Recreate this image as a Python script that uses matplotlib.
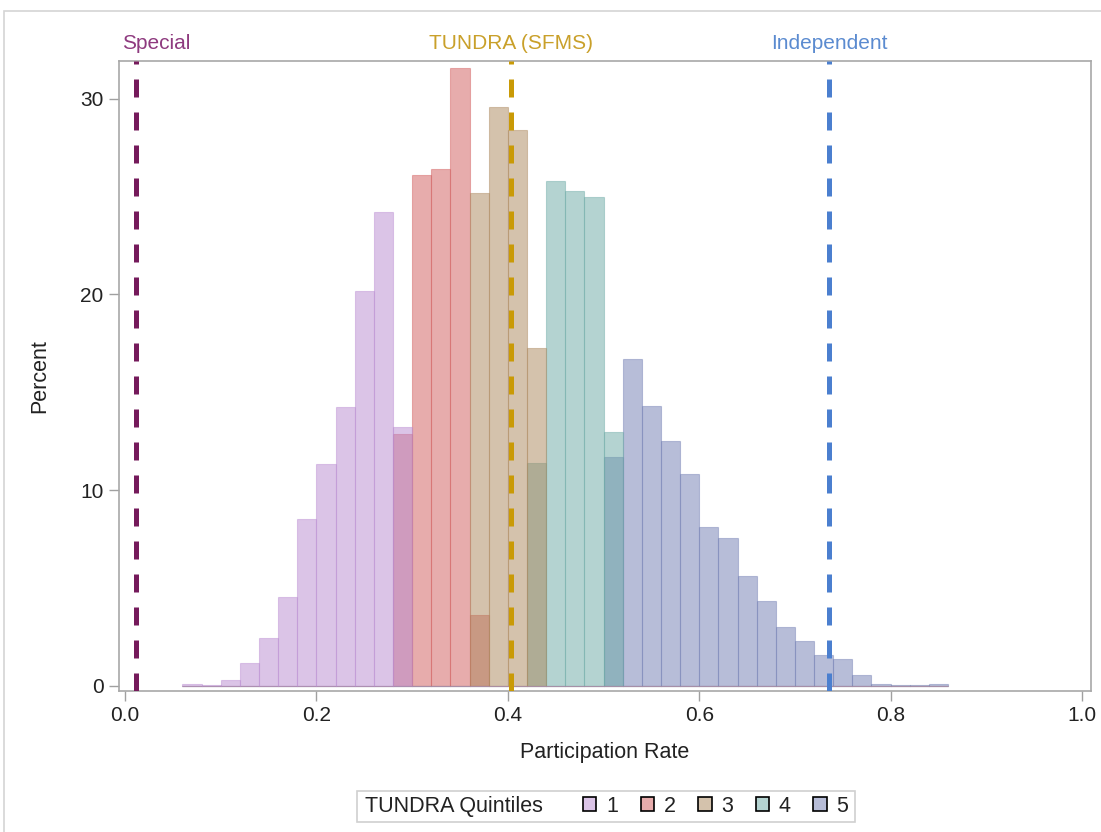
import matplotlib

matplotlib.use('agg')
import matplotlib.pyplot as plt
from matplotlib.patches import Patch, Rectangle

plt.rcParams['font.family'] = ['Liberation Sans', 'DejaVu Sans']

# histogram data, bin width 0.02, percent of schools in each quintile
bin_width = 0.02
quintiles = ['1', '2', '3', '4', '5']
q1_start, q1_pct = 0.06, [0.09, 0.04, 0.29, 1.18, 2.42, 4.53, 8.5, 11.33, 14.26, 20.2, 24.2, 13.25]
q2_start, q2_pct = 0.28, [12.87, 26.1, 26.4, 31.6, 3.6]
q3_start, q3_pct = 0.36, [25.2, 29.6, 28.4, 17.25]
q4_start, q4_pct = 0.42, [11.4, 25.8, 25.3, 25.0, 12.95]
q5_start, q5_pct = 0.50, [11.7, 16.7, 14.3, 12.5, 10.8, 8.1, 7.55, 5.6, 4.35, 3.0,
                          2.3, 1.55, 1.35, 0.55, 0.1, 0.03, 0.03, 0.1]
range_lo, range_hi = 0.06, 0.86

ref_names = ['Special', 'TUNDRA (SFMS)', 'Independent']
ref_values = [0.011, 0.403, 0.736]

bar_colors = ['#b98bd1', '#d15b5b', '#ab875b', '#6ba9a5', '#717db3']
ref_colors = ['#751a5b', '#c99a06', '#4b7fcf']
ref_text_colors = ['#8e3a7f', '#c9a02a', '#5b8bd0']
zorders = [5, 1, 4, 3, 2]


def padded(start, pct):
    # spread a group over the common bin range, zeros outside
    n = int(round((range_hi - range_lo) / bin_width))
    first = int(round((start - range_lo) / bin_width))
    vals = [0.0] * n
    for i, v in enumerate(pct):
        vals[first + i] = v
    lefts = [range_lo + i * bin_width for i in range(n)]
    return lefts, vals


fig = plt.figure(figsize=(11.01, 8.32), dpi=100)
ax = fig.add_axes([0.1081, 0.17, 0.8825, 0.757])

groups = [(q1_start, q1_pct), (q2_start, q2_pct), (q3_start, q3_pct),
          (q4_start, q4_pct), (q5_start, q5_pct)]
handles = []
for (start, pct), name, col, z in zip(groups, quintiles, bar_colors, zorders):
    lefts, vals = padded(start, pct)
    ax.bar(lefts, vals, width=bin_width, align='edge', color=col + '80',
           edgecolor=col + '70', linewidth=0.8, zorder=z)
    handles.append(Patch(facecolor=col + '80', edgecolor='black', linewidth=1.2))

for name, val, col in zip(ref_names, ref_values, ref_colors):
    ax.axvline(val, color=col, linewidth=3.6, linestyle=(0, (3.6, 3.0)), zorder=10)

# labels above the frame; the first one is pushed inside the frame edge
ax.text(-0.003, 1.013, ref_names[0], transform=ax.get_xaxis_transform(),
        color=ref_text_colors[0], ha='left', va='bottom', fontsize=15)
for name, val, col in zip(ref_names[1:], ref_values[1:], ref_text_colors[1:]):
    ax.text(val, 1.013, name, transform=ax.get_xaxis_transform(), color=col,
            ha='center', va='bottom', fontsize=15)

ax.set_xlim(-0.0063, 1.009)
ax.set_ylim(-0.25, 31.95)
ax.set_xticks([0.0, 0.2, 0.4, 0.6, 0.8, 1.0])
ax.set_xticklabels(['0.0', '0.2', '0.4', '0.6', '0.8', '1.0'])
ax.set_yticks([0, 10, 20, 30])
ax.tick_params(axis='both', direction='out', length=7, width=1, color='#a0a0a0',
               labelsize=15, labelcolor='#222222', pad=4)
for sp in ax.spines.values():
    sp.set_color('#a8a8a8')
    sp.set_linewidth(1.2)

ax.set_xlabel('Participation Rate', fontsize=15.5, color='#222222', labelpad=12)
ax.set_ylabel('Percent', fontsize=15.5, color='#222222', labelpad=22)

# legend: title on the same row as the entries, inside one box
W, H = 1101.0, 832.0
fig.patches.append(Rectangle((357 / W, 1 - 822 / H), 498 / W, 31 / H,
                             transform=fig.transFigure, facecolor='white',
                             edgecolor='#d0d0d0', linewidth=1.2))
fig.text(365 / W, 1 - 806.5 / H, 'TUNDRA Quintiles', fontsize=15.5, color='#222222',
         ha='left', va='center')
leg = fig.legend(handles, quintiles, loc='center left', bbox_to_anchor=(583 / W, 1 - 806.5 / H),
                 ncol=5, fontsize=15.5, frameon=False, handlelength=0.62,
                 handleheight=0.62, handletextpad=0.45, columnspacing=1.05,
                 borderpad=0, borderaxespad=0)
for t in leg.get_texts():
    t.set_color('#222222')

# outer border of the graph area
fig.patches.append(Rectangle((4 / W, -0.1), 1.2, 1 - 11 / H + 0.1,
                             transform=fig.transFigure, fill=False,
                             edgecolor='#d4d4d4', linewidth=1.2))

fig.savefig('out.png', dpi=100)
plt.close(fig)
